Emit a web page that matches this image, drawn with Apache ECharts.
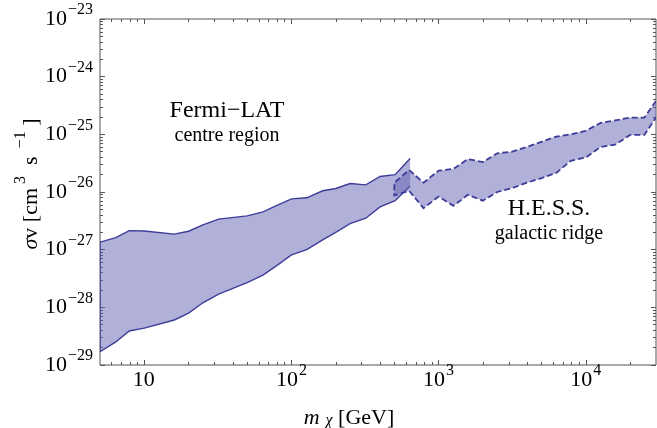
<!DOCTYPE html>
<html>
<head>
<meta charset="utf-8">
<script src="https://cdn.jsdelivr.net/npm/echarts@6/dist/echarts.min.js"></script>
<style>
  html, body { margin: 0; padding: 0; background: #fff; }
  #chart { width: 657px; height: 428px; }
</style>
</head>
<body>
<div id="chart"></div>
<script>
// Fermi-LAT, centre region
const fermiMass = [5, 6.4, 7.9, 10, 16, 20, 25, 32, 50, 64, 79, 100, 127, 163, 200, 250, 320, 400, 506, 640];
const fermiHigh = [1.35e-27, 1.62e-27, 2.14e-27, 2.11e-27, 1.86e-27, 2.09e-27, 2.69e-27, 3.39e-27, 3.85e-27, 4.52e-27,
                   5.82e-27, 7.59e-27, 7.94e-27, 1.05e-26, 1.15e-26, 1.40e-26, 1.33e-26, 1.86e-26, 2.0e-26, 3.8e-26];
const fermiLow = [1.70e-29, 2.51e-29, 3.89e-29, 4.37e-29, 6.03e-29, 7.94e-29, 1.20e-28, 1.70e-28, 2.69e-28, 3.63e-28,
                  5.25e-28, 8.13e-28, 1.0e-27, 1.48e-27, 2.0e-27, 2.82e-27, 3.51e-27, 5.50e-27, 7.08e-27, 1.27e-26];

// H.E.S.S., galactic ridge
const hessMass = [500, 630, 790, 1000, 1260, 1580, 2000, 2500, 3160, 3980, 5000, 6300, 7900, 10000, 12600, 15800, 20000, 25000, 30000];
const hessHigh = [1.45e-26, 2.40e-26, 1.45e-26, 2.34e-26, 2.51e-26, 3.72e-26, 3.31e-26, 4.68e-26, 5.01e-26, 6.03e-26,
                  7.41e-26, 9.12e-26, 1.0e-25, 1.15e-25, 1.58e-25, 1.74e-25, 1.95e-25, 1.95e-25, 3.80e-25];
const hessLow = [8.71e-27, 1.05e-26, 5.25e-27, 8.32e-27, 5.75e-27, 8.91e-27, 7.08e-27, 1.0e-26, 1.17e-26, 1.45e-26,
                 1.74e-26, 2.14e-26, 3.47e-26, 3.98e-26, 6.03e-26, 6.61e-26, 9.77e-26, 9.77e-26, 1.95e-25];

// ticks
const xMajorTicks = [10, 100, 1000, 10000];
const yMajorTicks = [1e-29, 1e-28, 1e-27, 1e-26, 1e-25, 1e-24, 1e-23];

const FONT = 'Liberation Serif';
const LINE = '#3d3d99';
const FILL = 'rgba(98,98,178,0.5)';
const FRAME = '#555';

// minor ticks 2..9 in every decade
function minorTicks(decades, lo, hi) {
  const out = [];
  decades.forEach(d => {
    for (let k = 2; k <= 9; k++) {
      const v = k * d;
      if (v > lo && v < hi) out.push(v);
    }
  });
  return out;
}
const xMinorTicks = minorTicks([1, 10, 100, 1000, 10000], 5, 30000);
const yMinorTicks = minorTicks([1e-29, 1e-28, 1e-27, 1e-26, 1e-25, 1e-24], 1e-29, 1e-23);

// the log scale rounds away numbers this small when placing ticks,
// so the y ticks sit on linear axes over the exponent (same positions)
const yMajorExp = yMajorTicks.map(v => Math.round(Math.log10(v)));
const yMinorExp = yMinorTicks.map(v => Math.log10(v));

const labelRich = {
  b: { fontFamily: FONT, fontSize: 22, color: '#000', lineHeight: 22, verticalAlign: 'bottom' },
  s: { fontFamily: FONT, fontSize: 16, color: '#000', lineHeight: 16, padding: [0, 0, 12, 1], verticalAlign: 'bottom' }
};

function xAxisDef(position, ticks, len, withLabel) {
  const ax = {
    type: 'log', logBase: 10, min: 5, max: 30000, gridIndex: 0, position: position,
    axisLine: { show: false },
    splitLine: { show: false },
    axisTick: { inside: true, length: len, customValues: ticks, lineStyle: { color: FRAME, width: 1 } },
    axisLabel: { show: false }
  };
  if (withLabel) {
    ax.axisLabel = {
      show: true, customValues: ticks, margin: 4,
      formatter: v => {
        const e = Math.round(Math.log10(v));
        return e === 1 ? '{b|10}{s|\u200b}' : '{b|10}{s|' + e + '}';
      },
      rich: labelRich
    };
    ax.name = '{i|m}{c|χ}{b| [GeV]}';
    ax.nameLocation = 'middle';
    ax.nameGap = 39;
    ax.nameTextStyle = {
      padding: [0, 58, 0, 0],
      rich: {
        i: { fontFamily: FONT, fontSize: 22, fontStyle: 'italic', color: '#000', lineHeight: 22, verticalAlign: 'top', padding: [0, 6, 0, 0] },
        c: { fontFamily: FONT, fontSize: 16, fontStyle: 'italic', color: '#000', lineHeight: 16, verticalAlign: 'bottom', padding: [17, 0, 0, 0] },
        b: { fontFamily: FONT, fontSize: 22, color: '#000', lineHeight: 22, verticalAlign: 'top' }
      }
    };
  }
  return ax;
}

function yTickAxis(position, ticks, len, withLabel) {
  const ax = {
    type: 'value', min: -29, max: -23, gridIndex: 0, position: position,
    axisLine: { show: false },
    splitLine: { show: false },
    axisTick: { inside: true, length: len, customValues: ticks, lineStyle: { color: FRAME, width: 1 } },
    axisLabel: { show: false }
  };
  if (withLabel) {
    ax.axisLabel = {
      show: true, customValues: ticks, margin: 7,
      formatter: v => '{b|10}{s|\u2212' + (-Math.round(v)) + '}',
      rich: labelRich
    };
  }
  return ax;
}

function bandSeries(name, mass, low, high, dashed) {
  return {
    type: 'custom',
    name: name,
    coordinateSystem: 'cartesian2d',
    xAxisIndex: 0,
    yAxisIndex: 0,
    clip: true,
    silent: true,
    data: mass.map((m, i) => [m, low[i], high[i]]),
    encode: { x: 0, y: [1, 2] },
    renderItem: function (params, api) {
      if (params.dataIndex !== 0) return null;
      const top = mass.map((m, i) => api.coord([m, high[i]]));
      const bottom = mass.map((m, i) => api.coord([m, low[i]]));
      const outline = top.slice().reverse().concat(bottom);
      return {
        type: 'group',
        children: [
          {
            type: 'polygon',
            shape: { points: top.concat(bottom.slice().reverse()) },
            style: { fill: FILL }
          },
          {
            type: 'polyline',
            shape: { points: outline },
            style: {
              fill: null, stroke: LINE,
              lineWidth: dashed ? 1.8 : 1.4,
              lineDash: dashed ? [6, 3] : null
            }
          }
        ]
      };
    }
  };
}

const chart = echarts.init(document.getElementById('chart'), null, { renderer: 'canvas' });

chart.setOption({
  animation: false,
  backgroundColor: '#fff',
  grid: {
    left: 100, top: 19, width: 556, height: 346,
    outerBoundsMode: 'none', containLabel: false,
    show: true, borderColor: FRAME, borderWidth: 1, backgroundColor: 'transparent'
  },
  xAxis: [
    xAxisDef('bottom', xMajorTicks, 5, true),
    xAxisDef('bottom', xMinorTicks, 3, false),
    xAxisDef('top', xMajorTicks, 5, false),
    xAxisDef('top', xMinorTicks, 3, false)
  ],
  yAxis: [
    {
      type: 'log', logBase: 10, min: 1e-29, max: 1e-23, gridIndex: 0, position: 'left',
      axisLine: { show: false }, axisTick: { show: false }, axisLabel: { show: false }, splitLine: { show: false },
      name: '{g|σ}{b|v [cm}{s| 3}{b|  s}{s|  \u22121}{b| ]}',
      nameLocation: 'middle',
      nameGap: 58,
      nameTextStyle: {
        padding: [0, 0, 0, 16],
        rich: {
          g: { fontFamily: FONT, fontSize: 22, fontStyle: 'italic', color: '#000', lineHeight: 22, verticalAlign: 'bottom' },
          b: { fontFamily: FONT, fontSize: 22, color: '#000', lineHeight: 22, verticalAlign: 'bottom' },
          s: { fontFamily: FONT, fontSize: 16, color: '#000', lineHeight: 16, padding: [0, 0, 13, 0], verticalAlign: 'bottom' }
        }
      }
    },
    yTickAxis('left', yMajorExp, 5, true),
    yTickAxis('left', yMinorExp, 3, false),
    yTickAxis('right', yMajorExp, 5, false),
    yTickAxis('right', yMinorExp, 3, false)
  ],
  series: [
    bandSeries('Fermi-LAT', fermiMass, fermiLow, fermiHigh, false),
    bandSeries('H.E.S.S.', hessMass, hessLow, hessHigh, true)
  ],
  graphic: [
    { type: 'text', x: 227, y: 111, style: { text: 'Fermi\u2212LAT', font: '24px "Liberation Serif"', fill: '#000', align: 'center', verticalAlign: 'middle' } },
    { type: 'text', x: 227, y: 136, style: { text: 'centre region', font: '20px "Liberation Serif"', fill: '#000', align: 'center', verticalAlign: 'middle' } },
    { type: 'text', x: 549, y: 209, style: { text: 'H.E.S.S.', font: '24px "Liberation Serif"', fill: '#000', align: 'center', verticalAlign: 'middle' } },
    { type: 'text', x: 549, y: 234, style: { text: 'galactic ridge', font: '20px "Liberation Serif"', fill: '#000', align: 'center', verticalAlign: 'middle' } }
  ]
});
</script>
</body>
</html>
